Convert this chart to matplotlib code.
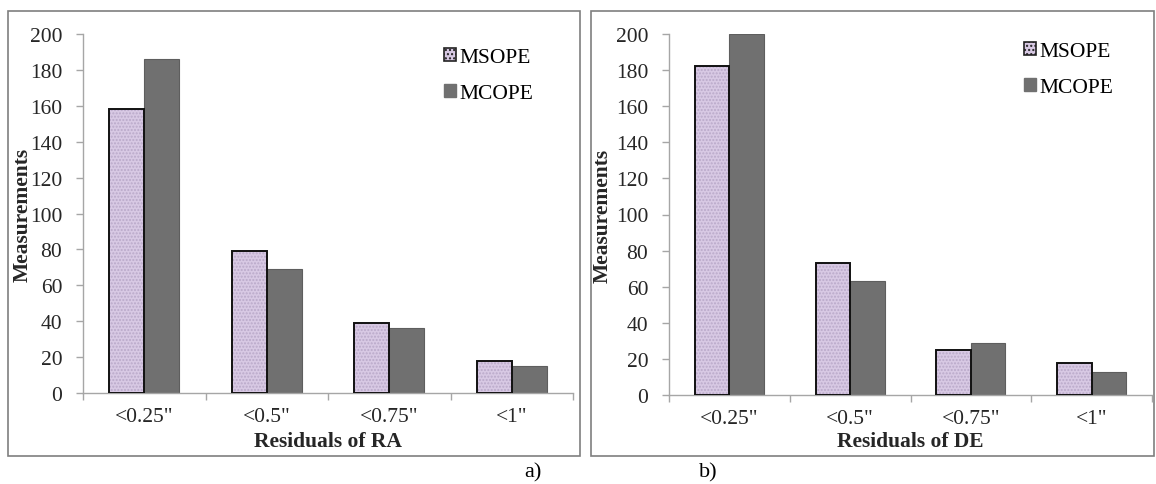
import matplotlib
matplotlib.use("Agg")
import matplotlib.pyplot as plt
import numpy as np
from matplotlib.patches import Rectangle, Patch

categories = ['<0.25"', '<0.5"', '<0.75"', '<1"']
series_names = ["MSOPE", "MCOPE"]
ra_msope = [158, 79, 39, 18]
ra_mcope = [186, 69, 36, 15]
de_msope = [182, 73, 25, 18]
de_mcope = [200, 63, 29, 13]
yticks = list(range(0, 201, 20))

plt.rcParams['font.family'] = ['Liberation Serif', 'DejaVu Serif']
W, H = 1156, 485
fig = plt.figure(figsize=(W / 100, H / 100), dpi=100)

LAV = '#D8C9E4'
LAV_DOT = '#B9A9C9'
GRAY = '#707070'
AXC = '#A6A6A6'
TXT = '#262626'

def px_axes(x0, x1, ytop, ybot):
    return [x0 / W, (H - ybot) / H, (x1 - x0) / W, (ybot - ytop) / H]

def frame(x0, x1, y0, y1):
    r = Rectangle((x0 / W, (H - y1) / H), (x1 - x0) / W, (y1 - y0) / H,
                  transform=fig.transFigure, fill=False, edgecolor='#7F7F7F',
                  linewidth=1.2, zorder=0)
    fig.add_artist(r)

def panel(rect, s1, s2, xlabel, ylab_x, xlab_y, leg_anchor):
    ax = fig.add_axes(rect)
    x = np.arange(len(categories))
    w = 0.286
    ax.bar(x - w / 2, s1, w, color=LAV, edgecolor=LAV_DOT, linewidth=0,
           hatch='.....', zorder=2)
    ax.bar(x - w / 2, s1, w, fill=False, edgecolor='#111111', linewidth=1.4,
           zorder=3)
    ax.bar(x + w / 2, s2, w, color=GRAY, edgecolor='#5E5E5E', linewidth=0.8,
           zorder=2)
    ax.set_xlim(-0.5, len(categories) - 0.5)
    ax.set_ylim(0, 200)
    ax.set_yticks(yticks)
    ax.set_yticklabels([str(v) for v in yticks], fontsize=15.5, color=TXT)
    ax.set_xticks(x)
    ax.set_xticklabels(categories, fontsize=15.5, color=TXT)
    ax.set_xticks(np.arange(-0.5, len(categories)), minor=True)
    ax.tick_params(axis='x', which='major', length=0, pad=10)
    ax.tick_params(axis='x', which='minor', length=5, color=AXC, width=1)
    ax.tick_params(axis='y', which='major', length=5, color=AXC, width=1, pad=10)
    for s in ['top', 'right']:
        ax.spines[s].set_visible(False)
    for s in ['left', 'bottom']:
        ax.spines[s].set_color(AXC)
        ax.spines[s].set_linewidth(1.0)
    ax.set_xlabel(xlabel, fontsize=15.5, fontweight='bold', color=TXT)
    ax.xaxis.set_label_coords(0.5, xlab_y)
    ax.set_ylabel('Measurements', fontsize=15.5, fontweight='bold', color=TXT)
    ax.yaxis.set_label_coords(ylab_x, 0.5)
    handles = [Patch(facecolor=LAV, edgecolor='#222222', linewidth=1.2, hatch='....'),
               Patch(facecolor=GRAY, edgecolor=GRAY)]
    ax.legend(handles, series_names, loc='upper left', bbox_to_anchor=leg_anchor,
              frameon=False, fontsize=15.5, handlelength=0.55, handleheight=0.55,
              handletextpad=0.15, labelspacing=0.8, borderaxespad=0)
    return ax

frame(8, 580, 12, 457)
frame(591, 1154, 12, 457)

panel(px_axes(83, 573, 35, 394), ra_msope, ra_mcope, 'Residuals of RA',
      -0.102, -0.105, (0.720, 0.985))
panel(px_axes(669, 1152, 35, 396), de_msope, de_mcope, 'Residuals of DE',
      -0.116, -0.10, (0.718, 1.002))

fig.text(533 / W, (H - 473) / H, 'a)', fontsize=16, ha='center', va='center', color='black')
fig.text(708 / W, (H - 473) / H, 'b)', fontsize=16, ha='center', va='center', color='black')

fig.savefig('out.png', dpi=100, facecolor='white')
